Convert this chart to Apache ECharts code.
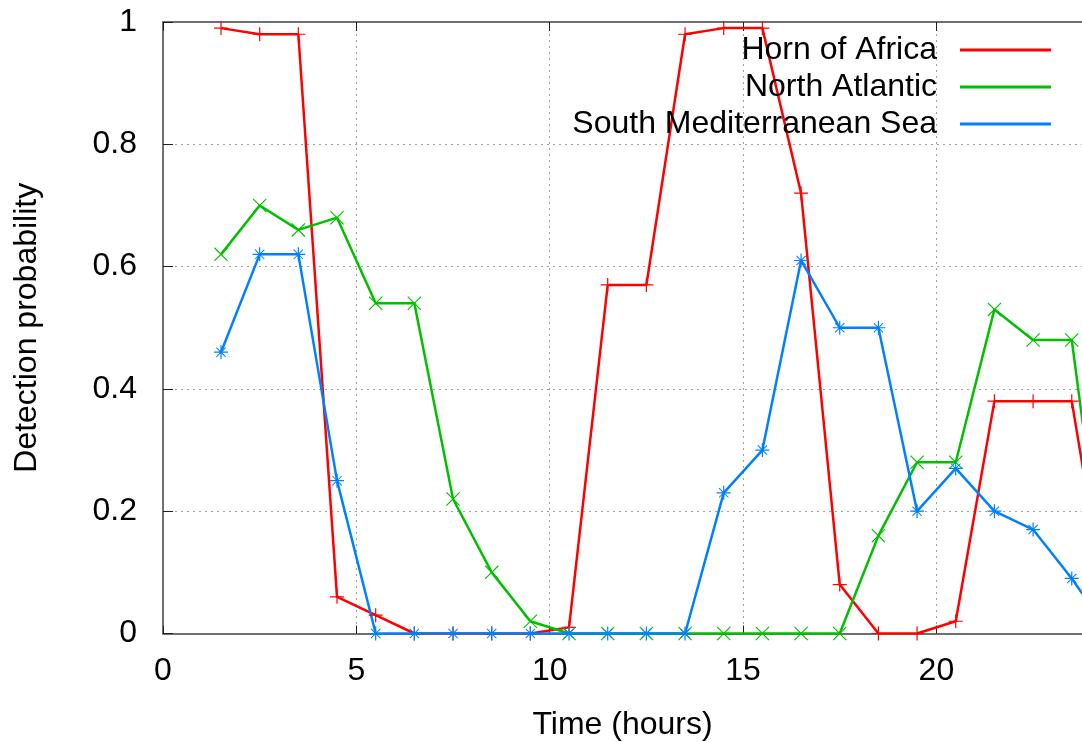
<!DOCTYPE html>
<html>
<head>
<meta charset="utf-8">
<script src="https://cdn.jsdelivr.net/npm/echarts@6/dist/echarts.min.js"></script>
<style>
html,body{margin:0;padding:0;background:#fff;}
#chart{width:1082px;height:742px;}
</style>
</head>
<body>
<div id="chart"></div>
<script>
// ---- data ----
var hours = [1.5, 2.5, 3.5, 4.5, 5.5, 6.5, 7.5, 8.5, 9.5, 10.5, 11.5, 12.5, 13.5, 14.5, 15.5, 16.5, 17.5, 18.5, 19.5, 20.5, 21.5, 22.5, 23.5, 24.5];
var hornOfAfrica = [0.99, 0.98, 0.98, 0.06, 0.03, 0, 0, 0, 0, 0.01, 0.57, 0.57, 0.98, 0.99, 0.99, 0.72, 0.08, 0, 0, 0.02, 0.38, 0.38, 0.38, 0];
var northAtlantic = [0.62, 0.70, 0.66, 0.68, 0.54, 0.54, 0.22, 0.10, 0.02, 0, 0, 0, 0, 0, 0, 0, 0, 0.16, 0.28, 0.28, 0.53, 0.48, 0.48, 0];
var southMed = [0.46, 0.62, 0.62, 0.25, 0, 0, 0, 0, 0, 0, 0, 0, 0, 0.23, 0.30, 0.61, 0.50, 0.50, 0.20, 0.27, 0.20, 0.17, 0.09, 0];
var seriesNames = ['Horn of Africa', 'North Atlantic', 'South Mediterranean Sea'];
var seriesColors = ['#ff0000', '#00c000', '#0080ff'];
var xTickLabels = [0, 5, 10, 15, 20];
var yTickLabels = [0, 0.2, 0.4, 0.6, 0.8, 1];

function pairs(xs, ys) {
  return xs.map(function (x, i) { return [x, ys[i]]; });
}

// marker shapes (gnuplot-like +, x, *)
var plusPath = 'path://M-7,-0.6L7,-0.6L7,0.6L-7,0.6ZM-0.6,-7L0.6,-7L0.6,7L-0.6,7Z';
var crossPath = 'path://M-7,-6.2L-6.2,-7L7,6.2L6.2,7ZM6.2,-7L7,-6.2L-6.2,7L-7,6.2Z';
var starPath = 'path://M-7,-0.6L7,-0.6L7,0.6L-7,0.6ZM-0.6,-7L0.6,-7L0.6,7L-0.6,7ZM-5,-4.3L-4.3,-5L5,4.3L4.3,5ZM4.3,-5L5,-4.3L-4.3,5L-5,4.3Z';
var symbols = [plusPath, crossPath, starPath];

var FONT = "'Liberation Sans', Arial, Helvetica, sans-serif";
var xMax = 23.765;

var chart = echarts.init(document.getElementById('chart'), null, {renderer: 'canvas'});

var dataSets = [hornOfAfrica, northAtlantic, southMed];
var series = dataSets.map(function (d, i) {
  return {
    name: seriesNames[i],
    type: 'line',
    data: pairs(hours, d),
    symbol: symbols[i],
    symbolSize: 14,
    showAllSymbol: true,
    clip: true,
    animation: false,
    lineStyle: {color: seriesColors[i], width: 2.5},
    itemStyle: {color: seriesColors[i]},
    emphasis: {disabled: true}
  };
});

var option = {
  animation: false,
  backgroundColor: '#ffffff',
  textStyle: {fontFamily: FONT},
  grid: {left: 163, top: 22, width: 919, height: 611.5, containLabel: false, outerBoundsMode: 'none'},
  legend: {
    data: seriesNames,
    orient: 'vertical',
    right: 26,
    top: 29,
    align: 'right',
    icon: 'rect',
    itemWidth: 91,
    itemHeight: 3,
    itemGap: 5,
    selectedMode: false,
    textStyle: {fontFamily: FONT, fontSize: 32, color: '#000', lineHeight: 32, padding: [0, 18, 0, 0]}
  },
  xAxis: [{
    type: 'value',
    min: 0,
    max: xMax,
    interval: 5,
    position: 'bottom',
    name: 'Time (hours)',
    nameLocation: 'middle',
    nameGap: 76,
    nameTextStyle: {fontFamily: FONT, fontSize: 32, color: '#000'},
    axisLine: {show: true, onZero: false, lineStyle: {color: '#404040', width: 1.5}},
    axisTick: {show: true, inside: true, length: 8, lineStyle: {color: '#202020', width: 1}},
    axisLabel: {
      show: true, margin: 22, fontFamily: FONT, fontSize: 32, color: '#000',
      showMaxLabel: false,
      formatter: function (v) { return xTickLabels.indexOf(v) >= 0 ? String(v) : ''; }
    },
    splitLine: {show: true, showMinLine: false, showMaxLine: false, lineStyle: {color: '#a0a0a0', width: 1, type: [2, 4]}}
  }, {
    type: 'value',
    min: 0,
    max: xMax,
    interval: 5,
    position: 'top',
    axisLine: {show: true, onZero: false, lineStyle: {color: '#404040', width: 1.5}},
    axisTick: {show: true, inside: true, length: 9, lineStyle: {color: '#202020', width: 1}},
    axisLabel: {show: false},
    splitLine: {show: false}
  }],
  yAxis: [{
    type: 'value',
    min: 0,
    max: 1,
    interval: 0.2,
    name: 'Detection probability',
    nameLocation: 'middle',
    nameGap: 120,
    nameRotate: 90,
    nameTextStyle: {fontFamily: FONT, fontSize: 32, color: '#000'},
    axisLine: {show: true, onZero: false, lineStyle: {color: '#404040', width: 1.5}},
    axisTick: {show: true, inside: true, length: 10, lineStyle: {color: '#202020', width: 1}},
    axisLabel: {
      show: true, margin: 26, fontFamily: FONT, fontSize: 32, color: '#000',
      formatter: function (v) {
        for (var k = 0; k < yTickLabels.length; k++) {
          if (Math.abs(yTickLabels[k] - v) < 1e-9) { return String(yTickLabels[k]); }
        }
        return '';
      }
    },
    splitLine: {show: true, showMinLine: false, showMaxLine: false, lineStyle: {color: '#a0a0a0', width: 1, type: [2, 4]}}
  }],
  series: series
};

chart.setOption(option);
</script>
</body>
</html>
